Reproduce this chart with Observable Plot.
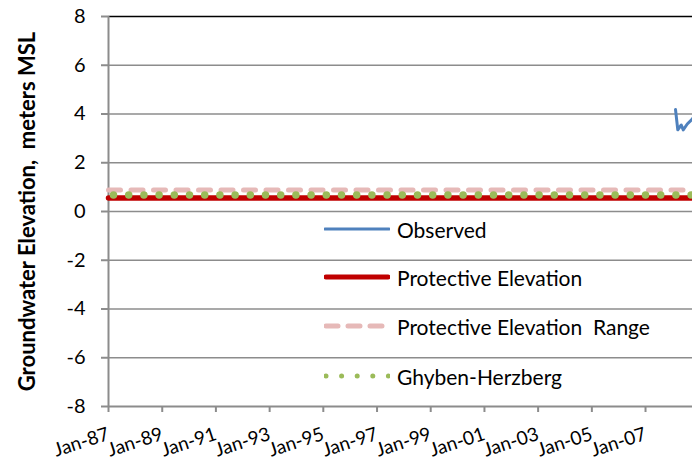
<!DOCTYPE html>
<html><head><meta charset="utf-8">
<script src="https://cdn.jsdelivr.net/npm/d3@7"></script>
<script src="https://cdn.jsdelivr.net/npm/@observablehq/plot@0.6"></script>
<style>
body{margin:0;background:#fff;font-family:Lato, "Open Sans", sans-serif;}
#wrap{position:relative;width:692px;height:462px;overflow:hidden;}
.lrow{position:absolute;left:324px;height:30px;display:flex;align-items:center;font-size:21px;color:#000;white-space:pre;}
.lrow svg{margin-right:7px;}
</style>
</head><body>
<div id="wrap"></div>
<script>
// Observed series (only visible at far right of the chart)
const obsDates = ["2008-02-13","2008-03-15","2008-05-01","2008-05-28","2008-07-22","2008-10-01","2008-11-01"];
const obsValues = [4.18, 3.35, 3.55, 3.35, 3.59, 3.80, 3.95];
// Constant reference levels
const protectiveElevation = 0.55;
const protectiveRange = 0.88;
const ghybenHerzberg = 0.68;
const xStart = "1987-01-01";
const xEnd = "2008-10-01";
const yTicks = [-8, -6, -4, -2, 0, 2, 4, 6, 8];
const xTickYears = [1987, 1989, 1991, 1993, 1995, 1997, 1999, 2001, 2003, 2005, 2007];
const yLabel = "Groundwater Elevation,  meters MSL";
const legendLabels = ["Observed", "Protective Elevation", "Protective Elevation  Range", "Ghyben-Herzberg"];
const legendColors = ["#4f81bd", "#c00000", "#e6b9b8", "#9bbb59"];

const parse = d3.utcParse("%Y-%m-%d");
const observed = obsDates.map((d, i) => ({date: parse(d), value: obsValues[i]}));
const x0 = parse(xStart), x1 = parse(xEnd);
const span = [x0, x1];
const xTicks = xTickYears.map(y => new Date(Date.UTC(y, 0, 1)));
const fmt = d3.utcFormat("%b-%y");
const yFmt = d => (d < 0 ? "-" + Math.abs(d) : String(d));

const chart = Plot.plot({
  width: 692,
  height: 462,
  marginLeft: 108,
  marginRight: 0,
  marginTop: 16,
  marginBottom: 56,
  style: {fontFamily: "Lato, 'Open Sans', sans-serif", background: "#fff"},
  x: {type: "utc", domain: span},
  y: {domain: [-8, 8]},
  marks: [
    Plot.ruleY(yTicks.filter(v => v > -8 && v < 8), {stroke: "#8c8c8c", strokeWidth: 1.3}),
    Plot.ruleY([8], {stroke: "#000", strokeWidth: 1.3}),
    Plot.ruleY([-8], {stroke: "#8c8c8c", strokeWidth: 2}),
    Plot.ruleX([x0], {stroke: "#8c8c8c", strokeWidth: 2}),
    Plot.axisY({ticks: yTicks, tickFormat: yFmt, tickSize: 7, tickPadding: 16, fontSize: 20, label: null, stroke: "#8c8c8c", strokeWidth: 2, color: "#000"}),
    Plot.axisX({ticks: xTicks, tickFormat: fmt, tickSize: 6, tickPadding: 21, tickRotate: -18, textAnchor: "end", fontSize: 19, label: null, stroke: "#8c8c8c", strokeWidth: 2}),
    Plot.text([yLabel], {frameAnchor: "left", dx: -81, rotate: -90, textAnchor: "middle", fontSize: 22, fontWeight: "bold", fill: "#000"}),
    Plot.lineY(span.map(d => ({d, v: protectiveElevation})), {x: "d", y: "v", stroke: legendColors[1], strokeWidth: 5.5}),
    Plot.lineY(span.map(d => ({d, v: protectiveRange})), {x: "d", y: "v", stroke: legendColors[2], strokeWidth: 5, strokeDasharray: "12 10.5", strokeLinecap: "round"}),
    Plot.lineY(span.map(d => ({d, v: ghybenHerzberg})), {x: "d", y: "v", stroke: legendColors[3], strokeWidth: 7.5, strokeDasharray: "0 15.2", strokeLinecap: "round", strokeDashoffset: -5}),
    Plot.line(observed, {x: "date", y: "value", stroke: legendColors[0], strokeWidth: 3, clip: true})
  ]
});
const wrap = document.getElementById("wrap");
wrap.appendChild(chart);

const rowCenters = [229, 277, 326, 376];
const swatches = [
  `<line x1="1" y1="5" x2="65" y2="5" stroke="${legendColors[0]}" stroke-width="3" stroke-linecap="round"/>`,
  `<line x1="2" y1="5" x2="64" y2="5" stroke="${legendColors[1]}" stroke-width="5" stroke-linecap="round"/>`,
  `<line x1="2" y1="5" x2="64" y2="5" stroke="${legendColors[2]}" stroke-width="5" stroke-dasharray="12 10" stroke-linecap="round"/>`,
  `<line x1="2" y1="5" x2="66" y2="5" stroke="${legendColors[3]}" stroke-width="5" stroke-dasharray="0 15.6" stroke-linecap="round"/>`
];
legendLabels.forEach((lab, i) => {
  const row = document.createElement("div");
  row.className = "lrow";
  row.style.top = (rowCenters[i] - 15) + "px";
  row.innerHTML = `<svg width="66" height="10">${swatches[i]}</svg><span>${lab}</span>`;
  wrap.appendChild(row);
});
</script>
</body></html>
